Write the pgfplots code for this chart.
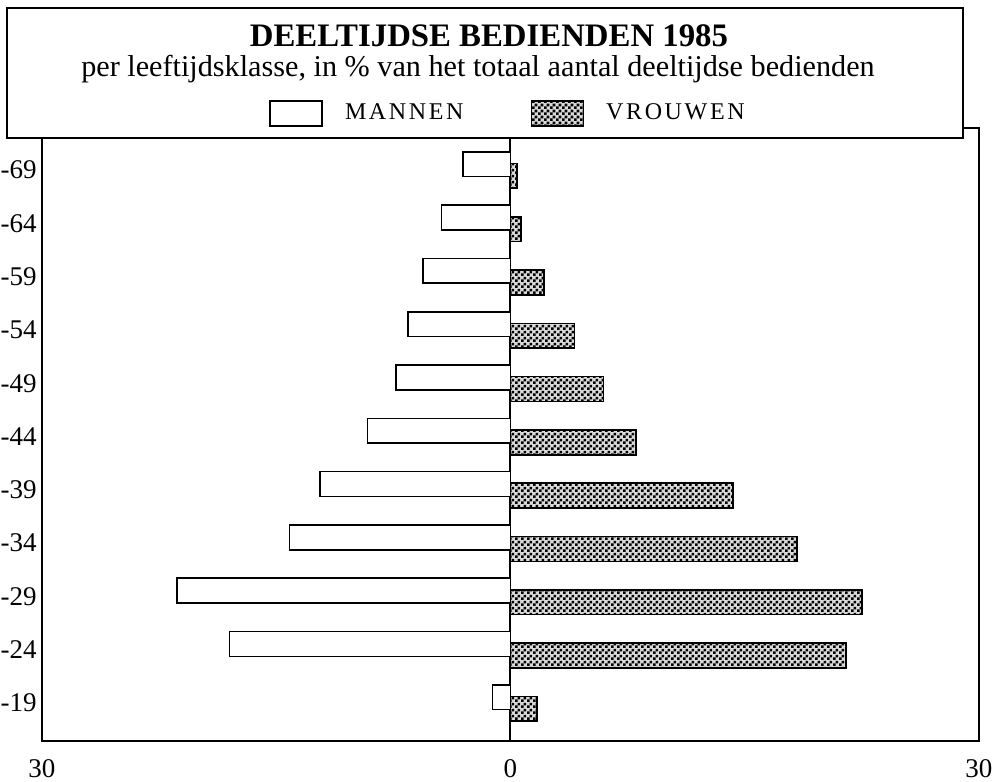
\documentclass[border=0pt]{standalone}
\usepackage{fontspec}
\setmainfont{Liberation Serif}
\usepackage{pgfplots}
\usepackage{pgfplotstable}
\pgfplotsset{compat=1.18}
\usetikzlibrary{patterns.meta}

% dense raster fill for the women's bars
\tikzdeclarepattern{
  name=raster,
  type=uncolored,
  bottom left={(0pt,0pt)},
  top right={(2.8pt,2.8pt)},
  tile size={(2.8pt,2.8pt)},
  code={
    \fill (0pt,0pt) rectangle (1.4pt,1.4pt);
    \fill (1.4pt,1.4pt) rectangle (2.8pt,2.8pt);
  }
}

% pos 0 = -19 ... pos 10 = -69; mannen drawn to the left
\pgfplotstableread{
pos  man     vrouw
0    -1.15   1.70
1    -18.0   21.5
2    -21.35  22.5
3    -14.15  18.35
4    -12.2   14.25
5    -9.15   8.05
6    -7.32   5.95
7    -6.56   4.10
8    -5.60   2.13
9    -4.41   0.69
10   -3.04   0.40
}\leeftijd

\begin{document}
\begin{tikzpicture}
\begin{axis}[
  scale only axis,
  width=468.5pt, height=306.5pt,
  xbar, bar width=12.4pt,
  xmin=-30, xmax=30, ymin=-0.713, ymax=10.79,
  xtick={-30,0,30}, xticklabels={30,0,30},
  ytick={0,...,10},
  yticklabels={\mbox{-19},\mbox{-24},\mbox{-29},\mbox{-34},\mbox{-39},\mbox{-44},\mbox{-49},\mbox{-54},\mbox{-59},\mbox{-64},\mbox{-69}},
  major tick length=0pt,
  xmajorgrids, major grid style={black, line width=1pt},
  axis line style={line width=1pt},
  /pgf/number format/assume math mode=true,
  ticklabel style={font=\fontsize{13.5}{13.5}\selectfont},
  yticklabel style={anchor=east, inner sep=0pt, xshift=-2.5pt},
  xticklabel style={anchor=north, inner sep=0pt, yshift=-9pt},
]
\addplot[fill=white, draw=black, line width=0.8pt, bar shift=2.9pt]
  table[x=man, y=pos] {\leeftijd};
\addplot[fill=black!15, postaction={pattern=raster, pattern color=black},
         draw=black, line width=0.8pt, bar shift=-2.9pt]
  table[x=vrouw, y=pos] {\leeftijd};
\end{axis}

% title box over the top of the plot
\fill[white] (-17.5pt,301.5pt) rectangle (460.5pt,366.5pt);
\draw[line width=1.3pt] (-17.5pt,301.5pt) rectangle (460.5pt,366.5pt);
\node[anchor=base, inner sep=0pt, font=\fontsize{16.4}{16.4}\selectfont\bfseries]
  at (223.5pt,347pt) {DEELTIJDSE BEDIENDEN 1985};
\node[anchor=base, inner sep=0pt, font=\fontsize{15.1}{15.1}\selectfont]
  at (218pt,332pt) {per leeftijdsklasse, in \% van het totaal aantal deeltijdse bedienden};

% second empty axis only for the legend, so it sits on top of the box
\begin{axis}[
  scale only axis,
  width=468.5pt, height=306.5pt,
  hide axis,
  xmin=0, xmax=1, ymin=0, ymax=1,
  legend columns=2,
  legend image code/.code={\draw[#1] (0pt,-6.25pt) rectangle (26pt,6.25pt);},
  legend style={
    at={(axis description cs:0.2423,1.0237)}, anchor=west,
    draw=none, fill=none, inner sep=0pt,
    font=\fontsize{12}{12}\selectfont\addfontfeature{LetterSpace=11},
    nodes={inner sep=0pt},
    /tikz/every odd column/.append style={column sep=11pt},
    /tikz/every even column/.append style={column sep=33.5pt},
  },
]
\addlegendimage{fill=white, draw=black, line width=0.8pt}
\addlegendentry{MANNEN}
\addlegendimage{fill=black!15, postaction={pattern=raster, pattern color=black}, draw=black, line width=0.8pt}
\addlegendentry{VROUWEN}
\end{axis}

\pgfresetboundingbox
\path[use as bounding box] (-21pt,-20.5pt) rectangle (480.5pt,370.5pt);
\end{tikzpicture}
\end{document}
